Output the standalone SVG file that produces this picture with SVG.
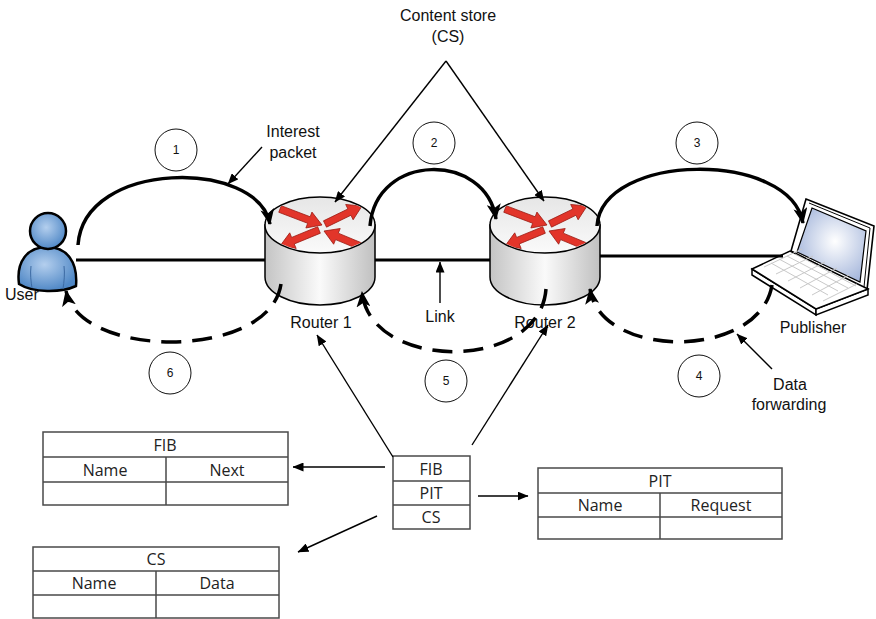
<svg xmlns="http://www.w3.org/2000/svg" xmlns:xlink="http://www.w3.org/1999/xlink" width="876" height="619" viewBox="0 0 876 619">
  <style>
    .lbl { font-family: "Liberation Sans", Arial, sans-serif; font-size: 16px; fill: #111; }
    .num { font-family: "Liberation Sans", Arial, sans-serif; font-size: 12px; fill: #111; text-anchor: middle; }
    .tbl { font-family: "Open Sans", "Liberation Sans", sans-serif; font-size: 16px; fill: #222; text-anchor: middle; }
    .cell { fill: #fff; stroke: #4a4a4a; stroke-width: 1.5; }
    .grid { stroke: #4a4a4a; stroke-width: 1.5; fill: none; }
    .step { fill: #fff; stroke: #111; stroke-width: 1; }
    .flow { fill: none; stroke: #000; stroke-width: 3.5; }
    .back { fill: none; stroke: #000; stroke-width: 3.5; stroke-dasharray: 20 11; }
    .wire { fill: none; stroke: #000; stroke-width: 3; }
    .ptr { fill: none; stroke: #000; stroke-width: 1.4; }
    .red { fill: #e2352a; stroke: #9b1a12; stroke-width: 0.8; }
    .key { fill: none; stroke: #c9c9c9; stroke-width: 1; }
  </style>
  <defs>
    <marker id="headBig" viewBox="0 0 16 14" refX="15" refY="7" markerWidth="16" markerHeight="14" markerUnits="userSpaceOnUse" orient="auto">
      <path d="M0,0 L16,7 L0,14 L4,7 Z" fill="#000"/>
    </marker>
    <marker id="headSmall" viewBox="0 0 11 9" refX="10.5" refY="4.5" markerWidth="11" markerHeight="9" markerUnits="userSpaceOnUse" orient="auto">
      <path d="M0,0 L11,4.5 L0,9 Z" fill="#000"/>
    </marker>
    <linearGradient id="bodyGrad" x1="0" y1="0" x2="1" y2="0">
      <stop offset="0" stop-color="#c4c4c4"/>
      <stop offset="0.5" stop-color="#fafafa"/>
      <stop offset="1" stop-color="#c0c0c0"/>
    </linearGradient>
    <linearGradient id="topGrad" x1="0" y1="0" x2="0" y2="1">
      <stop offset="0" stop-color="#e6e6e6"/>
      <stop offset="1" stop-color="#fafafa"/>
    </linearGradient>
    <radialGradient id="userGrad" cx="0.45" cy="0.4" r="0.6">
      <stop offset="0" stop-color="#b4cfee"/>
      <stop offset="1" stop-color="#5088c6"/>
    </radialGradient>
    <radialGradient id="screenGrad" cx="0.55" cy="0.45" r="0.6">
      <stop offset="0" stop-color="#ffffff"/>
      <stop offset="1" stop-color="#a7b8dc"/>
    </radialGradient>
    <clipPath id="topFace">
      <ellipse cx="0" cy="0" rx="54" ry="27"/>
    </clipPath>
    <!-- cylinder router with four crossing red arrows; origin = centre of top face -->
    <g id="routerShape">
      <path d="M-55,0 L-55,52 A55,28 0 0 0 55,52 L55,0 Z" fill="url(#bodyGrad)" stroke="#000" stroke-width="1.5"/>
      <ellipse cx="0" cy="0" rx="55" ry="28" fill="url(#topGrad)" stroke="#000" stroke-width="1.5"/>
      <g clip-path="url(#topFace)">
        <polygon class="red" points="-41.25,-12.73 -12.33,-1.71 -14.11,2.96 2,0 -8.05,-12.92 -9.83,-8.25 -38.75,-19.27"/>
        <polygon class="red" points="6.53,2.15 30.94,-9.73 33.13,-5.24 42,-19 25.69,-20.52 27.88,-16.03 3.47,-4.15"/>
        <polygon class="red" points="-2.33,1.76 -28.38,12.45 -30.28,7.83 -40,21 -23.82,23.55 -25.72,18.93 0.33,8.24"/>
        <polygon class="red" points="41.35,17.77 18.27,8.15 20.19,3.54 4,6 13.65,19.23 15.57,14.61 38.65,24.23"/>
      </g>
    </g>
  </defs>

  <rect width="876" height="619" fill="#fff"/>

  <!-- user -->
  <g id="user">
    <path d="M19,284 C16,262 27,247 47,247 C67,247 78,262 76,286 C61,293 33,293 19,284 Z" fill="url(#userGrad)" stroke="#000" stroke-width="2.5"/>
    <path d="M31,266 C30,274 31,282 32,288 M64,266 C65,274 64,282 63,289" fill="none" stroke="#3c6aa3" stroke-width="1"/>
    <circle cx="48" cy="231" r="18" fill="url(#userGrad)" stroke="#000" stroke-width="2.5"/>
    <text class="lbl" x="5" y="300">User</text>
  </g>

  <!-- router 1 -->
  <g id="router1">
    <use xlink:href="#routerShape" transform="translate(320,225)"/>
    <text class="lbl" x="321" y="328" text-anchor="middle">Router 1</text>
  </g>

  <!-- router 2 -->
  <g id="router2">
    <use xlink:href="#routerShape" transform="translate(545,225)"/>
    <text class="lbl" x="545" y="328" text-anchor="middle">Router 2</text>
  </g>

  <!-- publisher laptop -->
  <g id="publisher">
    <polygon points="806,199 874,226 867,290 791,251" fill="#fff" stroke="#000" stroke-width="1.6"/>
    <polyline points="809,203 870,228 864,287" fill="none" stroke="#000" stroke-width="1"/>
    <polygon points="812,208 866,231 860,282 797,252" fill="url(#screenGrad)" stroke="#000" stroke-width="1.2"/>
    <polygon points="752,269 752,275 816,315 816,309" fill="#fff" stroke="#000" stroke-width="1.5"/>
    <polygon points="816,309 816,315 868,295 868,289" fill="#fff" stroke="#000" stroke-width="1.5"/>
    <polygon points="752,269 790,251 868,289 816,309" fill="#fff" stroke="#000" stroke-width="1.5"/>
    <path class="key" d="M771,263 L828,295 M779,259 L838,291 M787,256 L848,288 M795,254 L856,286 M764,267 L802,249 M776,274 L813,256 M788,281 L825,262 M800,288 L837,268 M812,295 L849,275 M823,301 L857,284"/>
    <text class="lbl" x="813" y="333" text-anchor="middle">Publisher</text>
  </g>

  <!-- content store callout -->
  <g id="cs-label">
    <text class="lbl" x="448" y="21" text-anchor="middle">Content store</text>
    <text class="lbl" x="448" y="42" text-anchor="middle">(CS)</text>
  </g>

  <!-- step numbers -->
  <g id="step1"><circle class="step" cx="176" cy="150" r="21"/><text class="num" x="176" y="154">1</text></g>
  <g id="step2"><circle class="step" cx="434" cy="143" r="21"/><text class="num" x="434" y="147">2</text></g>
  <g id="step3"><circle class="step" cx="697" cy="143" r="21"/><text class="num" x="697" y="147">3</text></g>
  <g id="step4"><circle class="step" cx="699" cy="376" r="21"/><text class="num" x="699" y="380">4</text></g>
  <g id="step5"><circle class="step" cx="446" cy="381" r="21"/><text class="num" x="446" y="385">5</text></g>
  <g id="step6"><circle class="step" cx="170" cy="373" r="21"/><text class="num" x="170" y="377">6</text></g>

  <!-- other labels -->
  <g id="interest-label">
    <text class="lbl" x="293" y="137" text-anchor="middle">Interest</text>
    <text class="lbl" x="293" y="158" text-anchor="middle">packet</text>
  </g>
  <g id="link-label"><text class="lbl" x="440" y="322" text-anchor="middle">Link</text></g>
  <g id="data-label">
    <text class="lbl" x="790" y="390" text-anchor="middle">Data</text>
    <text class="lbl" x="789" y="410" text-anchor="middle">forwarding</text>
  </g>

  <!-- per-router structures -->
  <g id="structures">
    <rect class="cell" x="393" y="456" width="77" height="73"/>
    <path class="grid" d="M393,481 H470 M393,505 H470"/>
    <text class="tbl" x="431" y="475">FIB</text>
    <text class="tbl" x="431" y="499">PIT</text>
    <text class="tbl" x="431" y="523">CS</text>
  </g>

  <g id="fib-table">
    <rect class="cell" x="43" y="432" width="245" height="73"/>
    <path class="grid" d="M43,457 H288 M43,482 H288 M166,457 V505"/>
    <text class="tbl" x="165" y="451">FIB</text>
    <text class="tbl" x="105" y="476">Name</text>
    <text class="tbl" x="227" y="476">Next</text>
  </g>

  <g id="pit-table">
    <rect class="cell" x="538" y="468" width="244" height="71"/>
    <path class="grid" d="M538,493 H782 M538,517 H782 M660,493 V539"/>
    <text class="tbl" x="660" y="487">PIT</text>
    <text class="tbl" x="600" y="511">Name</text>
    <text class="tbl" x="721" y="511">Request</text>
  </g>

  <g id="cs-table">
    <rect class="cell" x="33" y="547" width="246" height="71"/>
    <path class="grid" d="M33,571 H279 M33,595 H279 M156,571 V618"/>
    <text class="tbl" x="156" y="565">CS</text>
    <text class="tbl" x="94" y="589">Name</text>
    <text class="tbl" x="217" y="589">Data</text>
  </g>

  <!-- connectors -->
  <g id="connectors">
    <!-- physical links -->
    <path class="wire" d="M76,260 H265"/>
    <path class="wire" d="M375,260 H490"/>
    <path class="wire" d="M600,256 H783"/>

    <!-- interest path (solid) -->
    <path class="flow" d="M78,245 C84,159 258,159 270,224" marker-end="url(#headBig)"/>
    <path class="flow" d="M370,226 C376,152 486,152 496,219" marker-end="url(#headBig)"/>
    <path class="flow" d="M597,226 C602,152 790,150 803,223" marker-end="url(#headBig)"/>

    <!-- data path (dashed) -->
    <path class="back" d="M772,285 C760,360 600,360 590,289" marker-end="url(#headBig)"/>
    <path class="back" d="M546,289 C540,372 370,372 362,292" marker-end="url(#headBig)"/>
    <path class="back" d="M281,284 C270,360 80,360 66,291" marker-end="url(#headBig)"/>

    <!-- callout pointers -->
    <path class="ptr" d="M262,147 L228,184" marker-end="url(#headSmall)"/>
    <path class="ptr" d="M446,61 L335,202" marker-end="url(#headSmall)"/>
    <path class="ptr" d="M446,61 L544,201" marker-end="url(#headSmall)"/>
    <path class="ptr" d="M440,303 L440,262" marker-end="url(#headSmall)"/>
    <path class="ptr" d="M772,369 L737,334" marker-end="url(#headSmall)"/>

    <!-- structure pointers -->
    <path class="ptr" d="M393,457 L317,335" marker-end="url(#headSmall)"/>
    <path class="ptr" d="M472,445 L548,325" marker-end="url(#headSmall)"/>
    <path class="ptr" d="M385,467 L293,467" marker-end="url(#headSmall)"/>
    <path class="ptr" d="M478,496 L528,496" marker-end="url(#headSmall)"/>
    <path class="ptr" d="M377,516 L298,552" marker-end="url(#headSmall)"/>
  </g>
</svg>
